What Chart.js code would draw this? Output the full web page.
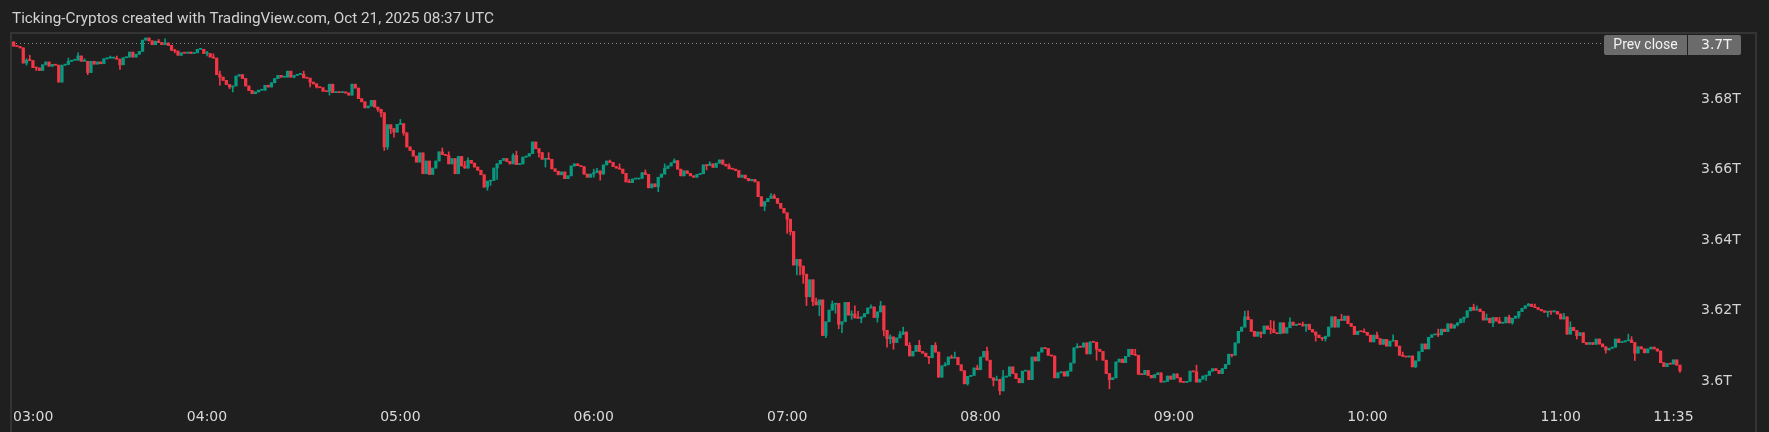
<!DOCTYPE html>
<html>
<head>
<meta charset="utf-8">
<script src="https://cdn.jsdelivr.net/npm/chart.js@4.4.0/dist/chart.umd.min.js"></script>
<style>
  html, body { margin: 0; padding: 0; background: #1f1f1f; }
  #wrap { position: relative; width: 1769px; height: 432px; }
</style>
</head>
<body>
<div id="wrap"><canvas id="my-chart" width="1769" height="432"></canvas></div>
<script>
'use strict';

// *************** DATA
const titleText = 'Ticking-Cryptos created with TradingView.com, Oct 21, 2025 08:37 UTC';
const firstOpen = 3.6962;
const prevClose = 3.6960;
const prevCloseLabel = '3.7T';
const slotCount = 520; // one minute per slot from 03:00, last two empty

// 1-minute closes (T)
const closes = [
  3.6950, 3.6949, 3.6945, 3.6902, 3.6910, 3.6909, 3.6889, 3.6888, 3.6881, 3.6897,
  3.6905, 3.6893, 3.6898, 3.6896, 3.6848, 3.6896, 3.6898, 3.6907, 3.6910, 3.6910,
  3.6922, 3.6907, 3.6907, 3.6875, 3.6907, 3.6899, 3.6905, 3.6900, 3.6914, 3.6916,
  3.6916, 3.6916, 3.6913, 3.6897, 3.6917, 3.6919, 3.6933, 3.6919, 3.6927, 3.6935,
  3.6967, 3.6973, 3.6965, 3.6954, 3.6964, 3.6960, 3.6954, 3.6959, 3.6952, 3.6938,
  3.6936, 3.6924, 3.6931, 3.6930, 3.6933, 3.6929, 3.6931, 3.6941, 3.6941, 3.6929,
  3.6929, 3.6919, 3.6916, 3.6869, 3.6862, 3.6853, 3.6841, 3.6834, 3.6837, 3.6865,
  3.6869, 3.6858, 3.6837, 3.6824, 3.6815, 3.6820, 3.6825, 3.6825, 3.6839, 3.6834,
  3.6846, 3.6858, 3.6867, 3.6862, 3.6862, 3.6879, 3.6862, 3.6867, 3.6870, 3.6870,
  3.6860, 3.6859, 3.6848, 3.6843, 3.6834, 3.6832, 3.6822, 3.6821, 3.6842, 3.6818,
  3.6820, 3.6818, 3.6820, 3.6817, 3.6811, 3.6842, 3.6831, 3.6801, 3.6792, 3.6775,
  3.6780, 3.6796, 3.6777, 3.6771, 3.6761, 3.6664, 3.6727, 3.6716, 3.6706, 3.6728,
  3.6730, 3.6704, 3.6664, 3.6654, 3.6638, 3.6621, 3.6647, 3.6588, 3.6624, 3.6586,
  3.6604, 3.6624, 3.6650, 3.6642, 3.6640, 3.6616, 3.6631, 3.6588, 3.6637, 3.6610,
  3.6604, 3.6626, 3.6618, 3.6607, 3.6598, 3.6585, 3.6550, 3.6567, 3.6569, 3.6604,
  3.6616, 3.6626, 3.6631, 3.6623, 3.6616, 3.6640, 3.6614, 3.6616, 3.6635, 3.6638,
  3.6645, 3.6678, 3.6659, 3.6648, 3.6629, 3.6631, 3.6629, 3.6602, 3.6595, 3.6585,
  3.6593, 3.6574, 3.6582, 3.6610, 3.6616, 3.6611, 3.6608, 3.6587, 3.6578, 3.6587,
  3.6591, 3.6596, 3.6587, 3.6613, 3.6624, 3.6620, 3.6608, 3.6604, 3.6601, 3.6589,
  3.6565, 3.6563, 3.6573, 3.6573, 3.6575, 3.6591, 3.6586, 3.6548, 3.6559, 3.6551,
  3.6578, 3.6587, 3.6603, 3.6610, 3.6619, 3.6625, 3.6601, 3.6582, 3.6596, 3.6589,
  3.6582, 3.6578, 3.6586, 3.6588, 3.6613, 3.6611, 3.6616, 3.6606, 3.6618, 3.6627,
  3.6615, 3.6610, 3.6602, 3.6601, 3.6597, 3.6578, 3.6584, 3.6575, 3.6568, 3.6572,
  3.6565, 3.6523, 3.6496, 3.6509, 3.6518, 3.6525, 3.6518, 3.6504, 3.6490, 3.6477,
  3.6459, 3.6424, 3.6329, 3.6345, 3.6326, 3.6303, 3.6239, 3.6287, 3.6225, 3.6216,
  3.6230, 3.6129, 3.6168, 3.6201, 3.6218, 3.6220, 3.6161, 3.6168, 3.6223, 3.6187,
  3.6190, 3.6179, 3.6178, 3.6182, 3.6191, 3.6207, 3.6210, 3.6180, 3.6196, 3.6213,
  3.6144, 3.6120, 3.6125, 3.6109, 3.6122, 3.6132, 3.6139, 3.6101, 3.6071, 3.6084,
  3.6101, 3.6084, 3.6079, 3.6070, 3.6066, 3.6101, 3.6082, 3.6011, 3.6043, 3.6046,
  3.6068, 3.6065, 3.6067, 3.6046, 3.6029, 3.5992, 3.6013, 3.6016, 3.6037, 3.6032,
  3.6068, 3.6084, 3.6059, 3.6009, 3.6002, 3.6005, 3.5972, 3.6011, 3.6014, 3.6040,
  3.6021, 3.6007, 3.5995, 3.6028, 3.6029, 3.6004, 3.6068, 3.6057, 3.6082, 3.6094,
  3.6092, 3.6073, 3.6071, 3.6009, 3.6023, 3.6026, 3.6014, 3.6028, 3.6051, 3.6094,
  3.6098, 3.6096, 3.6108, 3.6077, 3.6111, 3.6110, 3.6090, 3.6084, 3.6059, 3.6021,
  3.6004, 3.6009, 3.6054, 3.6062, 3.6052, 3.6070, 3.6090, 3.6075, 3.6073, 3.6019,
  3.6018, 3.6030, 3.6016, 3.6009, 3.6018, 3.6023, 3.5997, 3.5999, 3.6014, 3.6005,
  3.6020, 3.6009, 3.5997, 3.5996, 3.5999, 3.6028, 3.6026, 3.5997, 3.6005, 3.6014,
  3.6016, 3.6028, 3.6035, 3.6030, 3.6021, 3.6035, 3.6047, 3.6076, 3.6073, 3.6108,
  3.6141, 3.6153, 3.6182, 3.6174, 3.6141, 3.6127, 3.6139, 3.6134, 3.6156, 3.6147,
  3.6146, 3.6137, 3.6134, 3.6165, 3.6136, 3.6151, 3.6167, 3.6158, 3.6161, 3.6160,
  3.6156, 3.6161, 3.6146, 3.6139, 3.6130, 3.6123, 3.6120, 3.6127, 3.6153, 3.6182,
  3.6153, 3.6175, 3.6172, 3.6184, 3.6163, 3.6155, 3.6132, 3.6141, 3.6140, 3.6138,
  3.6130, 3.6111, 3.6130, 3.6120, 3.6104, 3.6118, 3.6099, 3.6113, 3.6115, 3.6099,
  3.6073, 3.6070, 3.6068, 3.6071, 3.6040, 3.6057, 3.6083, 3.6105, 3.6091, 3.6124,
  3.6131, 3.6132, 3.6131, 3.6147, 3.6140, 3.6162, 3.6150, 3.6159, 3.6165, 3.6176,
  3.6181, 3.6199, 3.6209, 3.6201, 3.6204, 3.6197, 3.6173, 3.6178, 3.6165, 3.6180,
  3.6170, 3.6164, 3.6165, 3.6181, 3.6165, 3.6178, 3.6184, 3.6197, 3.6206, 3.6213,
  3.6218, 3.6211, 3.6208, 3.6203, 3.6199, 3.6195, 3.6198, 3.6196, 3.6197, 3.6190,
  3.6176, 3.6182, 3.6133, 3.6152, 3.6143, 3.6129, 3.6137, 3.6109, 3.6104, 3.6109,
  3.6104, 3.6119, 3.6105, 3.6097, 3.6088, 3.6093, 3.6096, 3.6119, 3.6109, 3.6111,
  3.6114, 3.6116, 3.6109, 3.6079, 3.6097, 3.6091, 3.6080, 3.6091, 3.6096, 3.6091,
  3.6085, 3.6052, 3.6041, 3.6050, 3.6048, 3.6060, 3.6045, 3.6029
];

// visible wicks: [candle index, price]
const highWicks = [
  [4, 3.6914], [5, 3.6924], [17, 3.6916], [20, 3.6931], [22, 3.6914], [30, 3.6922],
  [32, 3.6922], [45, 3.6969], [47, 3.6971], [50, 3.6941], [60, 3.6935], [62, 3.6928],
  [64, 3.6879], [90, 3.6879], [120, 3.6742], [133, 3.6661], [135, 3.6650], [140, 3.6623],
  [141, 3.6633], [155, 3.6645], [156, 3.6652], [166, 3.6648], [180, 3.6601], [181, 3.6603],
  [185, 3.6627], [188, 3.6616], [191, 3.6572], [196, 3.6599], [202, 3.6616], [205, 3.6630],
  [216, 3.6622], [222, 3.6616], [235, 3.6532], [236, 3.6530], [249, 3.6235], [254, 3.6227],
  [260, 3.6199], [261, 3.6213], [262, 3.6198], [266, 3.6216], [269, 3.6226], [272, 3.6131],
  [275, 3.6141], [276, 3.6153], [278, 3.6109], [281, 3.6115], [286, 3.6109], [289, 3.6052],
  [291, 3.6073], [292, 3.6082], [299, 3.6045], [302, 3.6096], [305, 3.6014], [307, 3.6030],
  [330, 3.6106], [348, 3.6090], [367, 3.6045], [382, 3.6198], [383, 3.6199], [390, 3.6172],
  [391, 3.6170], [396, 3.6179], [400, 3.6167], [412, 3.6189], [419, 3.6148], [423, 3.6139],
  [428, 3.6131], [431, 3.6082], [442, 3.6147], [453, 3.6218], [454, 3.6213], [457, 3.6190],
  [461, 3.6181], [464, 3.6187], [470, 3.6220], [472, 3.6218], [478, 3.6199], [481, 3.6192],
  [483, 3.6168], [501, 3.6133], [502, 3.6126]
];
const lowWicks = [
  [4, 3.6896], [7, 3.6881], [23, 3.6869], [33, 3.6884], [50, 3.6931], [60, 3.6922],
  [64, 3.6839], [67, 3.6829], [68, 3.6820], [87, 3.6860], [92, 3.6834], [94, 3.6831],
  [98, 3.6811], [113, 3.6765], [114, 3.6749], [115, 3.6654], [116, 3.6657], [117, 3.6702],
  [118, 3.6692], [121, 3.6697], [147, 3.6541], [148, 3.6555], [150, 3.6572], [163, 3.6635],
  [165, 3.6607], [180, 3.6578], [182, 3.6570], [200, 3.6537], [215, 3.6599], [233, 3.6483],
  [240, 3.6419], [241, 3.6414], [243, 3.6301], [244, 3.6301], [245, 3.6277], [246, 3.6214],
  [248, 3.6214], [250, 3.6185], [252, 3.6123], [255, 3.6192], [256, 3.6148], [257, 3.6137],
  [260, 3.6175], [263, 3.6165], [268, 3.6167], [270, 3.6128], [271, 3.6096], [272, 3.6106],
  [273, 3.6090], [284, 3.6049], [296, 3.5988], [304, 3.5986], [306, 3.5961], [336, 3.6059],
  [340, 3.5978], [370, 3.6002], [378, 3.6068], [387, 3.6123], [390, 3.6134], [401, 3.6141],
  [404, 3.6113], [406, 3.6115], [407, 3.6113], [435, 3.6038], [442, 3.6126], [448, 3.6156],
  [450, 3.6166], [459, 3.6154], [465, 3.6161], [467, 3.6178], [476, 3.6182], [477, 3.6189],
  [485, 3.6119], [494, 3.6079], [503, 3.6058], [517, 3.6024]
];

const yTicks = [3.6, 3.62, 3.64, 3.66, 3.68];
const xTickLabels = ['03:00', '04:00', '05:00', '06:00', '07:00', '08:00', '09:00', '10:00', '11:00', '11:35'];

// *************** BUILD CANDLES
let categories = [];
for (let m = 0; m < slotCount; m++) {
  let t = 180 + m;
  categories.push(String(Math.floor(t / 60)).padStart(2, '0') + ':' + String(t % 60).padStart(2, '0'));
}

let opens = closes.map((c, i) => (i === 0 ? firstOpen : closes[i - 1]));
let highs = closes.map((c, i) => Math.max(c, opens[i]));
let lows = closes.map((c, i) => Math.min(c, opens[i]));
highWicks.forEach(([i, v]) => { highs[i] = Math.max(highs[i], v); });
lowWicks.forEach(([i, v]) => { lows[i] = Math.min(lows[i], v); });

const upColor = '#089981';
const downColor = '#f23645';
let colors = closes.map((c, i) => (c >= opens[i] ? upColor : downColor));

// *************** FRAME / LABELS PLUGIN
const uiFont = 'Roboto, "Open Sans", sans-serif';
const axisFont = '"DejaVu Sans", Roboto, sans-serif';

const tvFrame = {
  id: 'tvFrame',
  beforeDraw(chart) {
    const c = chart.ctx;
    c.save();
    c.fillStyle = '#1f1f1f';
    c.fillRect(0, 0, chart.width, chart.height);
    c.strokeStyle = '#343434';
    c.lineWidth = 2;
    c.beginPath();
    c.moveTo(11, chart.height);
    c.lineTo(11, 33);
    c.lineTo(1756, 33);
    c.lineTo(1756, chart.height);
    c.stroke();
    // title
    c.font = '15.3px ' + uiFont;
    c.fillStyle = '#d2d2d2';
    c.textBaseline = 'middle';
    c.textAlign = 'left';
    c.fillText(titleText, 12, 19);
    c.restore();
  },
  beforeDatasetsDraw(chart) {
    const c = chart.ctx;
    const area = chart.chartArea;
    const y = Math.round(chart.scales.y.getPixelForValue(prevClose)) + 0.5;
    c.save();
    c.strokeStyle = '#8c8c8c';
    c.lineWidth = 1;
    c.setLineDash([1, 3]);
    c.beginPath();
    c.moveTo(area.left, y);
    c.lineTo(area.right - 86, y);
    c.stroke();
    c.restore();
  },
  afterDraw(chart) {
    const c = chart.ctx;
    const area = chart.chartArea;
    const xs = chart.scales.x;
    const y = Math.round(chart.scales.y.getPixelForValue(prevClose));
    c.save();
    // prev close label
    c.fillStyle = '#6b6b6b';
    c.beginPath();
    c.roundRect(area.right - 84, y - 8, 83, 20, [2, 0, 0, 2]);
    c.fill();
    c.beginPath();
    c.roundRect(area.right, y - 8, 53, 20, [0, 2, 2, 0]);
    c.fill();
    c.fillStyle = '#f2f2f2';
    c.font = '14px ' + uiFont;
    c.textBaseline = 'middle';
    c.textAlign = 'center';
    c.fillText('Prev close', area.right - 42.5, y + 2);
    c.textAlign = 'left';
    c.font = '14px ' + axisFont;
    c.fillText(prevCloseLabel, area.right + 13, y + 2);

    // time axis labels
    c.font = '14px ' + axisFont;
    c.fillStyle = '#dadada';
    xTickLabels.forEach(lbl => {
      let x = xs.getPixelForValue(categories.indexOf(lbl));
      let w = c.measureText(lbl).width;
      c.fillText(lbl, Math.max(x - w / 2, 13), 417);
    });
    c.restore();
  }
};

// *************** CHART
let chartObj = {
  type: 'bar',
  data: {
    labels: categories,
    datasets: [
      {
        label: 'body',
        data: closes.map((c, i) => [opens[i], c]),
        backgroundColor: colors,
        barThickness: 2.6,
        minBarLength: 1,
        grouped: false,
        order: 0
      },
      {
        label: 'wick',
        data: closes.map((c, i) => [lows[i], highs[i]]),
        backgroundColor: colors,
        barThickness: 1,
        grouped: false,
        order: 1
      }
    ]
  },
  options: {
    responsive: false,
    animation: false,
    devicePixelRatio: 1,
    events: [],
    layout: { padding: { left: 12, top: 34, right: 0, bottom: 32 } },
    plugins: { legend: { display: false }, tooltip: { enabled: false } },
    scales: {
      x: { display: false },
      y: {
        position: 'right',
        min: 3.59461,
        max: 3.69844,
        grid: { display: false, drawTicks: false },
        border: { display: false },
        afterFit: s => { s.width = 81; },
        afterBuildTicks: s => { s.ticks = yTicks.map(v => ({ value: v })); },
        ticks: {
          padding: 13,
          color: '#d4d4d4',
          font: { family: axisFont, size: 14 },
          callback: v => (Math.round(v * 100) / 100) + 'T'
        }
      }
    }
  },
  plugins: [tvFrame]
};

let ctx = document.getElementById('my-chart').getContext('2d');
let myChart = new Chart(ctx, chartObj);
</script>
</body>
</html>
